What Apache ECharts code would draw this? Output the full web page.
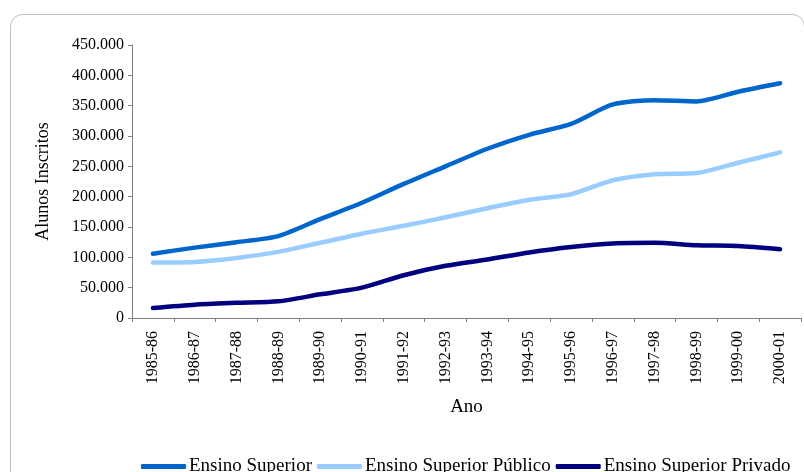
<!DOCTYPE html>
<html>
<head>
<meta charset="utf-8">
<script src="https://cdn.jsdelivr.net/npm/echarts@6/dist/echarts.min.js"></script>
<style>
html,body{margin:0;padding:0;background:#fff;}
#chart{width:804px;height:472px;}
</style>
</head>
<body>
<div id="chart"></div>
<script>
var categories = ['1985-86','1986-87','1987-88','1988-89','1989-90','1990-91','1991-92','1992-93','1993-94','1994-95','1995-96','1996-97','1997-98','1998-99','1999-00','2000-01'];
var ensinoSuperior = [106000, 116000, 125000, 135000, 163000, 190000, 221000, 250000, 279000, 302000, 320000, 352000, 359000, 357000, 373000, 387000];
var ensinoPublico  = [91500, 92500, 99000, 109000, 124000, 139000, 152000, 166000, 181000, 195000, 204000, 227000, 237000, 239000, 256000, 273000];
var ensinoPrivado  = [16500, 22000, 25000, 27500, 39000, 50000, 70500, 86000, 96500, 108000, 117000, 123000, 124000, 120000, 118500, 113500];
var seriesNames = ['Ensino Superior', 'Ensino Superior Público', 'Ensino Superior Privado'];
var yTicks = {min: 0, max: 450000, interval: 50000};

var FONT = '"Liberation Serif", "DejaVu Serif", serif';
function fmt(v){ return String(v).replace(/\B(?=(\d{3})+(?!\d))/g, '.'); }

var chart = echarts.init(document.getElementById('chart'), null, {renderer: 'canvas'});
var colors = ['#0066CC', '#99CCFF', '#000080'];
var datas = [ensinoSuperior, ensinoPublico, ensinoPrivado];

chart.setOption({
  animation: false,
  backgroundColor: '#ffffff',
  graphic: [{
    type: 'rect',
    left: 8, top: 12,
    shape: {width: 794, height: 470, r: 12},
    style: {fill: 'none', stroke: '#c0c0c0', lineWidth: 1},
    z: -10, silent: true
  }],
  grid: {left: 132, right: 3, top: 45, bottom: 154, containLabel: false},
  legend: {
    data: seriesNames,
    left: 136, top: 452,
    icon: 'roundRect',
    itemWidth: 45, itemHeight: 5,
    itemGap: 5,
    textStyle: {fontFamily: FONT, fontSize: 19, color: '#000', padding: [0,0,0,-2]}
  },
  xAxis: {
    type: 'category',
    data: categories,
    boundaryGap: true,
    name: 'Ano',
    nameLocation: 'middle',
    nameGap: 80,
    nameTextStyle: {fontFamily: FONT, fontSize: 19, color: '#000'},
    axisLine: {lineStyle: {color: '#808080', width: 1}},
    axisTick: {show: true, length: 4, alignWithLabel: false, lineStyle: {color: '#808080'}},
    axisLabel: {rotate: 90, margin: 13, fontFamily: FONT, fontSize: 16, color: '#000', interval: 0},
    splitLine: {show: false}
  },
  yAxis: {
    type: 'value',
    min: yTicks.min, max: yTicks.max, interval: yTicks.interval,
    name: 'Alunos Inscritos',
    nameLocation: 'middle',
    nameRotate: 90,
    nameGap: 80,
    nameTextStyle: {fontFamily: FONT, fontSize: 18, color: '#000'},
    axisLine: {show: true, lineStyle: {color: '#808080', width: 1}},
    axisTick: {show: true, length: 4, lineStyle: {color: '#808080'}},
    axisLabel: {fontFamily: FONT, fontSize: 16, color: '#000', margin: 8, formatter: fmt},
    splitLine: {show: false}
  },
  series: seriesNames.map(function(n, i){
    return {
      name: n, type: 'line', data: datas[i],
      smooth: 0.25, showSymbol: false, symbol: 'none',
      lineStyle: {color: colors[i], width: 4.5, cap: 'round', join: 'round'},
      itemStyle: {color: colors[i]}
    };
  })
});
</script>
</body>
</html>
